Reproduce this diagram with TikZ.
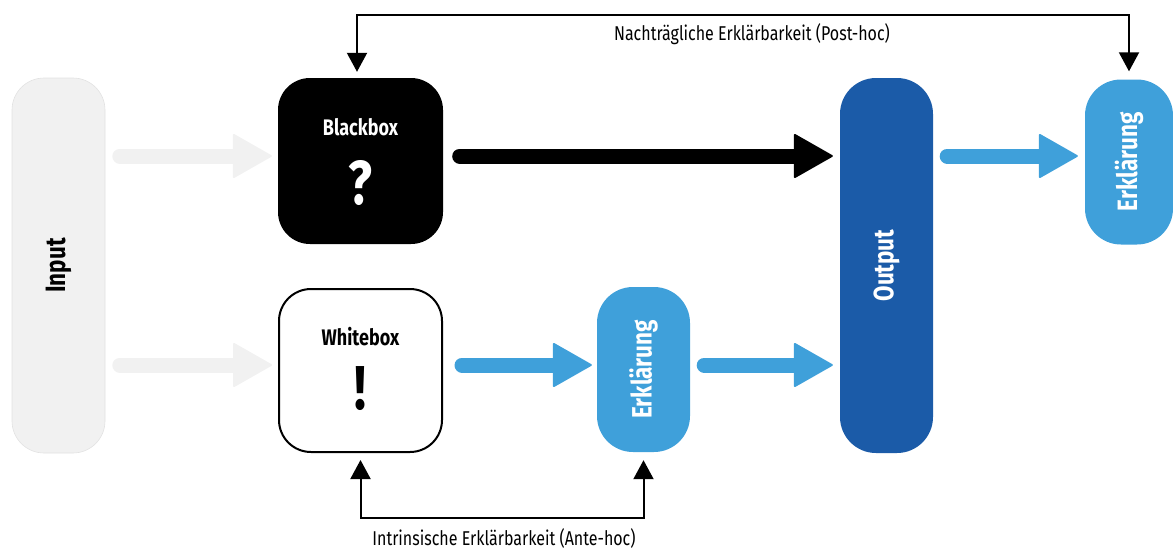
\documentclass[tikz,border=0pt]{standalone}
\usepackage{fontspec}
\usepackage{graphicx}
\newfontfamily\cond[FakeStretch=0.8]{Fira Sans}
\usetikzlibrary{arrows.meta,calc}

\definecolor{inputgray}{HTML}{F1F1F1}
\definecolor{inputedge}{HTML}{E2E2E2}
\definecolor{lightblue}{HTML}{3FA0DA}
\definecolor{darkblue}{HTML}{1B5BA8}

\tikzset{
  box/.style={rectangle, inner sep=0pt, rounded corners=32pt},
  titletext/.style={inner sep=0pt, font=\fontsize{22.5}{22.5}\selectfont\cond\bfseries},
  marktext/.style={inner sep=0pt, font=\fontsize{62}{62}\selectfont\cond\bfseries},
  sidetext/.style={inner sep=0pt, font=\fontsize{28}{28}\selectfont\cond\bfseries},
  labeltext/.style={inner sep=0pt, font=\fontsize{20}{20}\selectfont\cond},
  fatarrow/.style={line width=15pt, line cap=round,
    -{Triangle[length=40pt, width=45pt, line width=2pt, round]}},
  linkarrow/.style={line width=2pt,
    {Triangle[length=19pt, width=20pt]}-{Triangle[length=19pt, width=20pt]}},
}

\begin{document}
\begin{tikzpicture}[x=1pt, y=-1pt]
\useasboundingbox (0,0) rectangle (1173,550);

% boxes
\node[box, fill=inputgray, draw=inputedge, line width=0.6pt,
      minimum width=93pt, minimum height=375pt] (input) at (58.5,265.5) {};
\node[box, fill=black, minimum width=165pt, minimum height=166pt] (bb) at (360.5,161) {};
\node[box, fill=white, draw=black, line width=2pt,
      minimum width=163pt, minimum height=163pt] (wb) at (360.5,370.5) {};
\node[box, fill=lightblue, rounded corners=36pt,
      minimum width=93pt, minimum height=165pt] (er1) at (643.5,369.5) {};
\node[box, fill=darkblue, rounded corners=36pt,
      minimum width=93pt, minimum height=375pt] (out) at (886.5,265.5) {};
\node[box, fill=lightblue, rounded corners=36pt,
      minimum width=88pt, minimum height=165pt] (er2) at (1129,162) {};

% texts inside boxes
\node[sidetext, text=black] (inputtxt) at (input.center) {\rotatebox{90}{Input}};
\node[titletext, text=white] (bbtitle) at ($(bb.north)+(0,49)$) {Blackbox};
\node[marktext, text=white] (bbmark) at ($(bb.north)+(0,105)$) {?};
\node[titletext, text=black] (wbtitle) at ($(wb.north)+(0,49)$) {Whitebox};
\node[marktext, text=black] (wbmark) at ($(wb.north)+(0,101)$) {!};
\node[sidetext, text=white] (er1txt) at (er1.center) {\rotatebox{90}{Erklärung}};
\node[sidetext, text=white] (outtxt) at (out.center) {\rotatebox{90}{Output}};
\node[sidetext, text=white] (er2txt) at (er2.center) {\rotatebox{90}{Erklärung}};

% rows of the thick arrows
\coordinate (rowT) at (0,156);
\coordinate (rowB) at (0,365);

% thick arrows
\draw[fatarrow, inputgray, shorten <=14.5pt, shorten >=6pt] (input.east |- rowT) -- (bb.west |- rowT);
\draw[fatarrow, inputgray, shorten <=14.5pt, shorten >=6pt] (input.east |- rowB) -- (wb.west |- rowB);
\draw[fatarrow, black, shorten <=16.5pt, shorten >=7pt] (bb.east |- rowT) -- (out.west |- rowT);
\draw[fatarrow, lightblue, shorten <=19pt, shorten >=5pt] (wb.east |- rowB) -- (er1.west |- rowB);
\draw[fatarrow, lightblue, shorten <=14pt, shorten >=7pt] (er1.east |- rowB) -- (out.west |- rowB);
\draw[fatarrow, lightblue, shorten <=14pt, shorten >=7pt] (out.east |- rowT) -- (er2.west |- rowT);

% explanation links
\coordinate (topline) at (0,15);
\coordinate (botline) at (0,518);
\coordinate (bbtop) at ($(bb.north)+(-3.5,0)$);
\draw[linkarrow, shorten <=6pt, shorten >=8pt]
  (bbtop) -- (bbtop |- topline) -- (er2.north |- topline) -- (er2.north);
\draw[linkarrow, shorten <=7pt, shorten >=8pt]
  (wb.south) -- (wb.south |- botline) -- (er1.south |- botline) -- (er1.south);

\node[labeltext] (posthoc) at (752,34) {Nachträgliche Erklärbarkeit (Post-hoc)};
\node[labeltext] (antehoc) at (504,538) {Intrinsische Erklärbarkeit (Ante-hoc)};
\end{tikzpicture}
\end{document}
